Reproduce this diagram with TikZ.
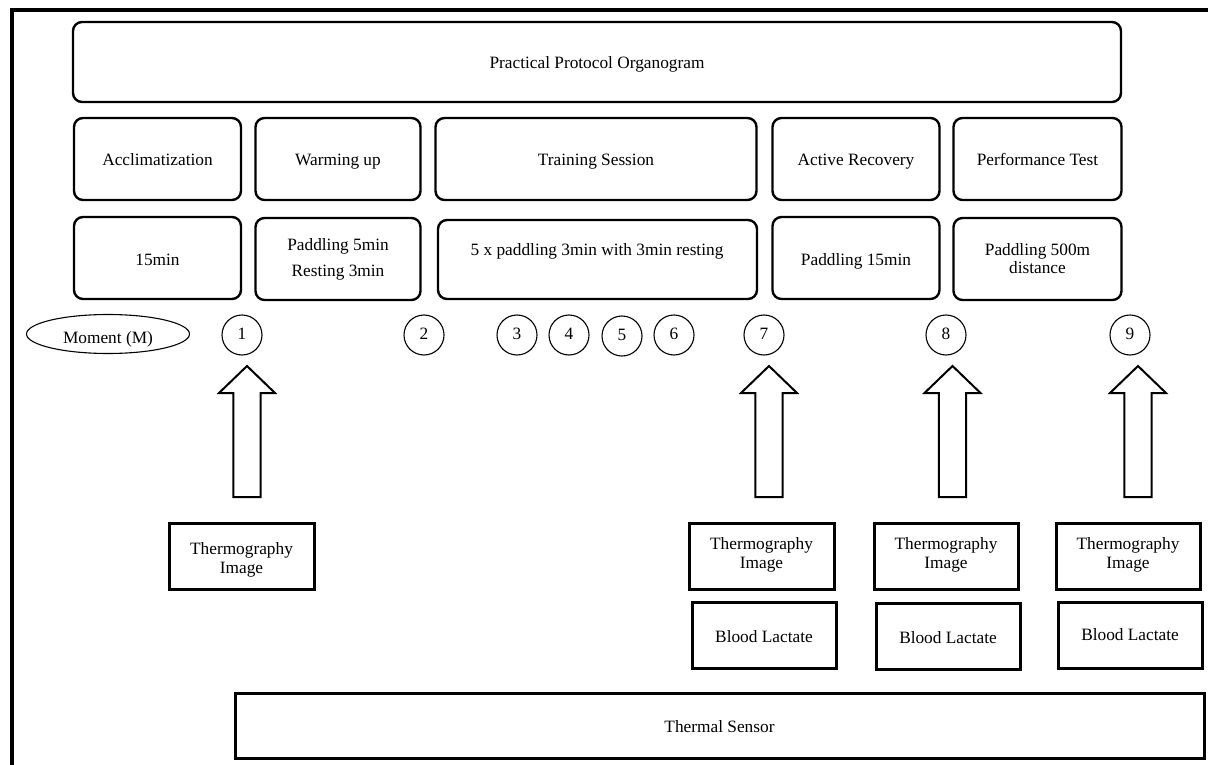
\documentclass[tikz,border=0pt]{standalone}
\usepackage{fontspec}
\setmainfont{Liberation Serif}
\usetikzlibrary{shapes.geometric}
\tikzset{
  txt/.style={font=\fontsize{17.3}{20}\selectfont},
  one/.style={text height=15pt,text depth=1pt},
  rbox/.style={txt,draw,line width=2.4pt,rounded corners=9pt,align=center,inner sep=0pt},
  sbox/.style={txt,draw,line width=3pt,align=center,inner sep=0pt},
  moment/.style={txt,text height=12pt,text depth=4pt,draw,circle,line width=1.1pt,minimum size=40pt,inner sep=0pt},
  uparrow/.pic={\draw[line width=2pt,line join=miter] (-13.7,0) -- (-13.7,-104) -- (-28,-104) -- (0,-131) -- (28,-104) -- (13.7,-104) -- (13.7,0) -- cycle;}
}
\begin{document}
\begin{tikzpicture}[x=1pt,y=-1pt]
\useasboundingbox (0,0) rectangle (1208,765);
% frame
\draw[line width=4.5pt] (12,767) -- (12,10) -- (1210,10);
% title
\node[rbox,one,minimum width=1048pt,minimum height=80pt] (title) at (597,62) {Practical Protocol Organogram};
% phases
\node[rbox,one,minimum width=167pt,minimum height=82pt] (acc) at (157.5,159) {Acclimatization};
\node[rbox,one,minimum width=165pt,minimum height=82pt] (warm) at (338,159) {Warming up};
\node[rbox,one,minimum width=321pt,minimum height=82pt] (train) at (596,159) {Training Session};
\node[rbox,one,minimum width=167pt,minimum height=82pt] (rec) at (856,159) {Active Recovery};
\node[rbox,one,minimum width=168pt,minimum height=82pt] (perf) at (1037.5,159) {Performance Test};
% details
\node[rbox,one,minimum width=167pt,minimum height=82pt] (acc2) at (157.5,258) {15min};
\node[rbox,minimum width=165pt,minimum height=82pt] (warm2) at (338,259) {Paddling 5min\\[6pt]Resting 3min};
\node[rbox,minimum width=319pt,minimum height=79pt] (train2) at (597.5,259.5) {};
\node[txt,one] (train2t) at (597,248) {5 x paddling 3min with 3min resting};
\node[rbox,one,minimum width=167pt,minimum height=82pt] (rec2) at (856,258) {Paddling 15min};
\node[rbox,minimum width=168pt,minimum height=82pt] (perf2) at (1037.5,259) {Paddling 500m\\[-2pt]distance};
% moments
\node[txt,draw,ellipse,line width=1.1pt,minimum width=163pt,minimum height=39pt,inner sep=0pt] (mom) at (108,334) {\raisebox{-5pt}[\height][\depth]{Moment (M)}};
\node[moment] (m1) at (242,335) {1};
\node[moment] (m2) at (424,335) {2};
\node[moment] (m3) at (517,335) {3};
\node[moment] (m4) at (569,335) {4};
\node[moment] (m5) at (622,336) {5};
\node[moment] (m6) at (674,335) {6};
\node[moment] (m7) at (764,335) {7};
\node[moment] (m8) at (946,335) {8};
\node[moment] (m9) at (1130,335) {9};
% arrows
\pic at (247,497) {uparrow};
\pic at (769,497) {uparrow};
\pic at (952.5,497) {uparrow};
\pic at (1138,497) {uparrow};
% measurement boxes
\node[sbox,minimum width=145pt,minimum height=66pt] (th1) at (241.5,556) {\raisebox{-4pt}[\height][\depth]{\begin{tabular}{@{}c@{}}Thermography\\[-1pt]Image\end{tabular}}};
\node[sbox,minimum width=145pt,minimum height=66pt] (th7) at (761.5,556) {\raisebox{1pt}[\height][\depth]{\begin{tabular}{@{}c@{}}Thermography\\[-1pt]Image\end{tabular}}};
\node[sbox,minimum width=144pt,minimum height=66pt] (th8) at (946,556) {\raisebox{1pt}[\height][\depth]{\begin{tabular}{@{}c@{}}Thermography\\[-1pt]Image\end{tabular}}};
\node[sbox,minimum width=144pt,minimum height=66pt] (th9) at (1128,556) {\raisebox{1pt}[\height][\depth]{\begin{tabular}{@{}c@{}}Thermography\\[-1pt]Image\end{tabular}}};
\node[sbox,one,minimum width=144pt,minimum height=66pt] (bl7) at (764,635) {Blood Lactate};
\node[sbox,one,minimum width=144pt,minimum height=66pt] (bl8) at (948,636) {Blood Lactate};
\node[sbox,one,minimum width=144pt,minimum height=66pt] (bl9) at (1130,635) {\raisebox{2pt}[\height][\depth]{Blood Lactate}};
% thermal sensor
\node[sbox,one,minimum width=969pt,minimum height=65pt] (ts) at (719.5,725.5) {Thermal Sensor};
\end{tikzpicture}
\end{document}
